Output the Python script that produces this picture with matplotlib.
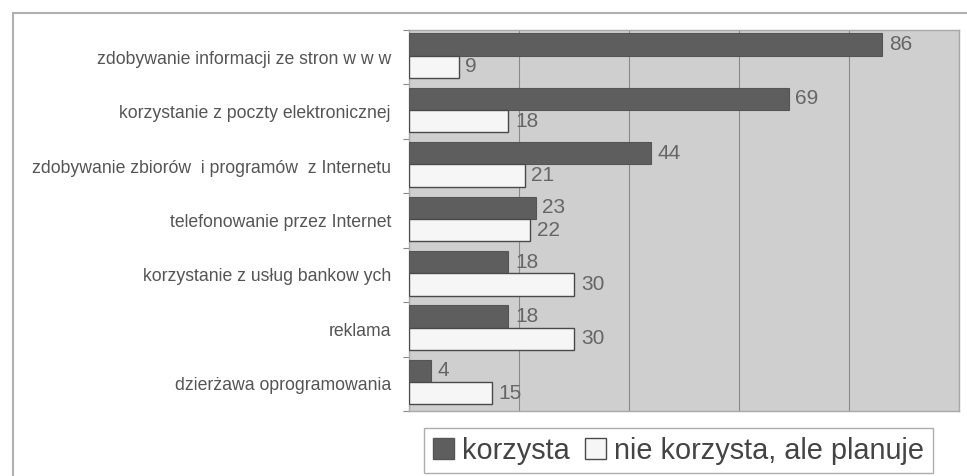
import numpy as np
import matplotlib
matplotlib.use('Agg')
import matplotlib.pyplot as plt
from matplotlib.patches import Rectangle, Patch

# data ---
categories = ['zdobywanie informacji ze stron w w w',
              'korzystanie z poczty elektronicznej',
              'zdobywanie zbiorów  i programów  z Internetu',
              'telefonowanie przez Internet',
              'korzystanie z usług bankow ych',
              'reklama',
              'dzierżawa oprogramowania']
korzysta = [86, 69, 44, 23, 18, 18, 4]
planuje = [9, 18, 21, 22, 30, 30, 15]
series_names = ['korzysta', 'nie korzysta, ale planuje']

plt.rcParams['font.family'] = ['Liberation Sans', 'DejaVu Sans']

fig = plt.figure(figsize=(9.67, 4.76), dpi=100)
ax = fig.add_axes([409/967, 1 - 411/476, 550/967, 381/476])

y = np.arange(len(categories))
h = 0.41
ax.barh(y - 0.235, korzysta, height=h, color='#5e5e5e', edgecolor='#555555', linewidth=0.8, zorder=3)
ax.barh(y + 0.175, planuje, height=h, color='#f6f6f6', edgecolor='#4a4a4a', linewidth=1.0, zorder=3)

# value labels
for yi, v in zip(y, korzysta):
    ax.annotate(str(v), (v, yi - 0.235), xytext=(5, 0), textcoords='offset points',
                va='center', ha='left', fontsize=15, color='#666666')
for yi, v in zip(y, planuje):
    ax.annotate(str(v), (v, yi + 0.175), xytext=(5, 0), textcoords='offset points',
                va='center', ha='left', fontsize=15, color='#666666')

ax.set_xlim(0, 100)
ax.set_ylim(len(categories) - 0.5, -0.5)
ax.set_facecolor('#cfcfcf')
ax.set_xticks(np.arange(0, 101, 20))
ax.xaxis.grid(True, color='#8a8a8a', linewidth=0.8, zorder=1)
ax.set_axisbelow(True)
ax.tick_params(axis='x', length=0, labelbottom=False)

ax.set_yticks(y)
ax.set_yticklabels(categories, fontsize=12.7, color='#555555')
ax.set_yticks(np.arange(len(categories) + 1) - 0.5, minor=True)
ax.tick_params(axis='y', which='major', length=0, pad=13)
ax.tick_params(axis='y', which='minor', length=4, color='#888888', width=0.8)

for s in ax.spines.values():
    s.set_color('#a8a8a8')
    s.set_linewidth(1.0)

# outer frame of the scanned figure
fig.patches.append(Rectangle((13/967, -0.2), 1.2, 1.2 - 13/476, transform=fig.transFigure,
                             fill=False, edgecolor='#b0b0b0', linewidth=1.5))

handles = [Patch(facecolor='#5e5e5e', edgecolor='#555555'),
           Patch(facecolor='#f6f6f6', edgecolor='#4a4a4a')]
leg = fig.legend(handles, series_names, loc='upper left', bbox_to_anchor=(424/967, 1 - 428/476),
                 ncol=2, fontsize=20.8, frameon=True, fancybox=False, edgecolor='#999999',
                 handlelength=0.75, handleheight=0.75, handletextpad=0.28, columnspacing=0.5,
                 borderpad=0.3, borderaxespad=0)
leg.get_frame().set_linewidth(1.0)
for t in leg.get_texts():
    t.set_color('#444444')

plt.savefig('out.png', dpi=100)
